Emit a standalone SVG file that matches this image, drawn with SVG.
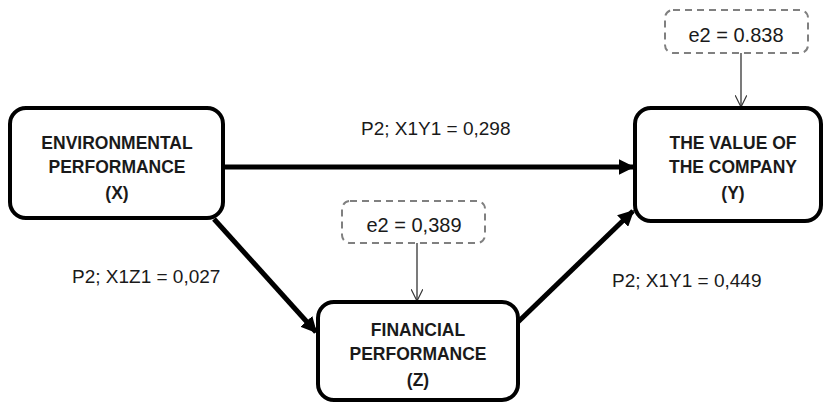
<svg xmlns="http://www.w3.org/2000/svg" width="826" height="406" viewBox="0 0 826 406">
<style>
.node{fill:#fff;stroke:#000;stroke-width:4}
.err{fill:#fff;stroke:#808080;stroke-width:2;stroke-dasharray:7 5}
.b{font-family:"Liberation Sans",Arial,sans-serif;font-weight:bold;font-size:17.5px;fill:#1a1a1a;text-anchor:middle}
.r{font-family:"Liberation Sans",Arial,sans-serif;font-size:19px;fill:#1a1a1a}
.e{font-family:"Liberation Sans",Arial,sans-serif;font-size:20px;fill:#1a1a1a;text-anchor:middle}
.thick{stroke:#000;stroke-width:5;fill:none;marker-end:url(#ah)}
.thin{stroke:#333;stroke-width:1.3;fill:none;marker-end:url(#av)}
</style>
<defs>
<marker id="ah" viewBox="0 0 10 10" refX="9" refY="5" markerWidth="3.2" markerHeight="3.2" orient="auto" markerUnits="strokeWidth">
<path d="M0,0 L10,5 L0,10 z" fill="#000"/>
</marker>
<marker id="av" viewBox="0 0 10 10" refX="10" refY="5" markerWidth="9" markerHeight="9" orient="auto" markerUnits="strokeWidth">
<path d="M0,0 L10,5 L0,10" fill="none" stroke="#333" stroke-width="1"/>
</marker>
</defs>
<rect width="826" height="406" fill="#fff"/>
<g id="connectors">
<line class="thick" x1="224" y1="167" x2="633" y2="167"/>
<line class="thick" x1="214" y1="219" x2="316" y2="332"/>
<line class="thick" x1="518" y1="322" x2="633" y2="211"/>
<line class="thin" x1="741" y1="53" x2="741" y2="107"/>
<line class="thin" x1="417" y1="243" x2="417" y2="301"/>
<text class="r" x="361" y="135">P2; X1Y1 = 0,298</text>
<text class="r" x="72" y="283">P2; X1Z1 = 0,027</text>
<text class="r" x="612" y="287">P2; X1Y1 = 0,449</text>
</g>
<g id="nodeX">
<rect class="node" x="10" y="108" width="213" height="110" rx="16"/>
<text class="b" x="117" y="149">ENVIRONMENTAL</text>
<text class="b" x="117" y="173">PERFORMANCE</text>
<text class="b" x="117" y="199">(X)</text>
</g>
<g id="nodeY">
<rect class="node" x="635" y="108" width="186" height="113" rx="16"/>
<text class="b" x="733" y="149">THE VALUE OF</text>
<text class="b" x="733" y="173">THE COMPANY</text>
<text class="b" x="733" y="199">(Y)</text>
</g>
<g id="nodeZ">
<rect class="node" x="318" y="302" width="200" height="98" rx="16"/>
<text class="b" x="418" y="336">FINANCIAL</text>
<text class="b" x="418" y="360">PERFORMANCE</text>
<text class="b" x="418" y="386">(Z)</text>
</g>
<g id="errY">
<rect class="err" x="665" y="10" width="143" height="43" rx="8"/>
<text class="e" x="736" y="42">e2 = 0.838</text>
</g>
<g id="errZ">
<rect class="err" x="342" y="201" width="143" height="42" rx="8"/>
<text class="e" x="414" y="232">e2 = 0,389</text>
</g>
</svg>
